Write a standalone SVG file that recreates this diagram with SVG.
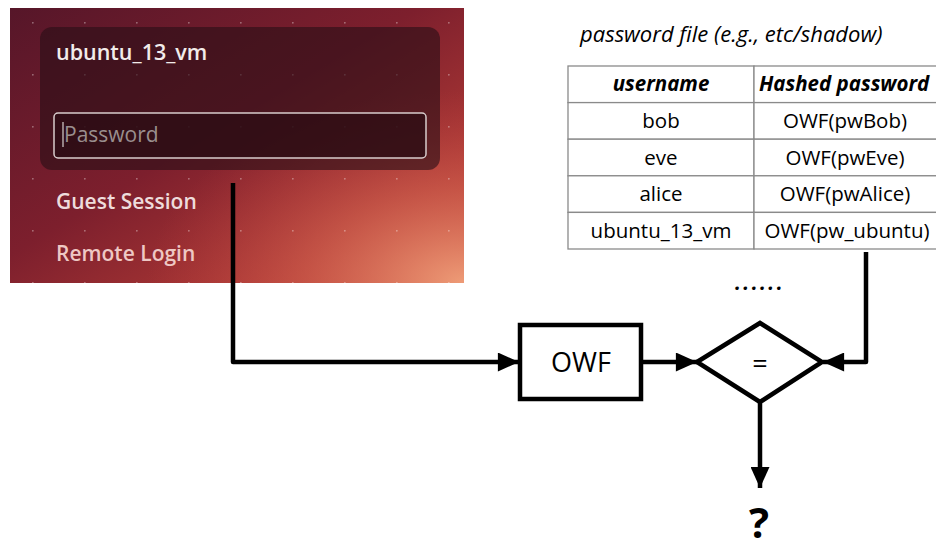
<svg xmlns="http://www.w3.org/2000/svg" width="936" height="549" viewBox="0 0 936 549">
<defs>
<style>
.ui{font-family:"Open Sans","Noto Sans","Liberation Sans",sans-serif}
.tb{font-family:"Open Sans","Liberation Sans",sans-serif;font-size:20.5px;fill:#000;text-anchor:middle}
.hd{font-weight:bold;font-style:italic}
.cell{fill:#fff;stroke:#8a8a8a;stroke-width:1.3}
.wire{fill:none;stroke:#000;stroke-width:4.5;stroke-linejoin:round}
</style>
<linearGradient id="bg" x1="0" y1="0" x2="1" y2="1">
<stop offset="0" stop-color="#561629"/>
<stop offset="0.45" stop-color="#7d1f2d"/>
<stop offset="0.8" stop-color="#b03a35"/>
<stop offset="1" stop-color="#c84a3c"/>
</linearGradient>
<radialGradient id="glow" cx="1" cy="1" r="0.7">
<stop offset="0" stop-color="#f0a07a" stop-opacity="0.95"/>
<stop offset="0.5" stop-color="#d86a55" stop-opacity="0.5"/>
<stop offset="1" stop-color="#c04040" stop-opacity="0"/>
</radialGradient>
<pattern id="dots" x="32" y="22" width="52" height="52" patternUnits="userSpaceOnUse">
<circle cx="0.8" cy="0.8" r="0.9" fill="#ffffff" fill-opacity="0.35"/>
</pattern>
<marker id="arr" viewBox="0 0 20 18" refX="20" refY="9" markerWidth="26" markerHeight="19" markerUnits="userSpaceOnUse" orient="auto">
<path d="M0,0 L20,9 L0,18 z" fill="#000"/>
</marker>
</defs>
<rect width="936" height="549" fill="#fff"/>

<g id="login-screen">
<rect x="10" y="8" width="454" height="275" fill="url(#bg)"/>
<rect x="10" y="8" width="454" height="275" fill="url(#glow)"/>
<rect x="10" y="8" width="454" height="275" fill="url(#dots)"/>
<rect x="40" y="27" width="400" height="143" rx="12" fill="#2a0e16" fill-opacity="0.62"/>
<text x="56" y="60" class="ui" font-size="21.5" font-weight="600" fill="#f2ecea">ubuntu_13_vm</text>
<rect x="54" y="113" width="372" height="45" rx="4" fill="#2a0c12" fill-opacity="0.7" stroke="#d8cccc" stroke-width="1.5"/>
<line x1="63" y1="122" x2="63" y2="147" stroke="#d8d0d0" stroke-width="1.2"/>
<text x="64" y="142" class="ui" font-size="21" fill="#9a8e8e">Password</text>
<text x="56" y="209" class="ui" font-size="21" font-weight="600" fill="#eedcdc">Guest Session</text>
<text x="56" y="261" class="ui" font-size="21" font-weight="600" fill="#eec8c4">Remote Login</text>
</g>

<g id="password-file">
<text x="580" y="42" class="ui" font-size="22" font-style="italic" fill="#000">password file (e.g., etc/shadow)</text>
<rect class="cell" x="568" y="66" width="186" height="36.6"/>
<rect class="cell" x="754" y="66" width="190" height="36.6"/>
<rect class="cell" x="568" y="102.6" width="186" height="36.6"/>
<rect class="cell" x="754" y="102.6" width="190" height="36.6"/>
<rect class="cell" x="568" y="139.2" width="186" height="36.6"/>
<rect class="cell" x="754" y="139.2" width="190" height="36.6"/>
<rect class="cell" x="568" y="175.8" width="186" height="36.6"/>
<rect class="cell" x="754" y="175.8" width="190" height="36.6"/>
<rect class="cell" x="568" y="212.4" width="186" height="36.6"/>
<rect class="cell" x="754" y="212.4" width="190" height="36.6"/>
<text class="tb hd" x="661" y="91">username</text>
<text class="tb hd" x="759" y="91" style="text-anchor:start">Hashed password</text>
<text class="tb" x="661" y="128">bob</text>
<text class="tb" x="845" y="128">OWF(pwBob)</text>
<text class="tb" x="661" y="165">eve</text>
<text class="tb" x="845" y="165">OWF(pwEve)</text>
<text class="tb" x="661" y="201">alice</text>
<text class="tb" x="845" y="201">OWF(pwAlice)</text>
<text class="tb" x="661" y="238">ubuntu_13_vm</text>
<text class="tb" x="847" y="238">OWF(pw_ubuntu)</text>
<text class="tb hd" x="760" y="290" letter-spacing="2.5">......</text>
</g>

<g id="connectors">
<path class="wire" d="M233,183 V362 H519" marker-end="url(#arr)"/>
<path class="wire" d="M642,362 H697" marker-end="url(#arr)"/>
<path class="wire" d="M866,252 V362 H823" marker-end="url(#arr)"/>
<path class="wire" d="M760,402 V488" marker-end="url(#arr)"/>
</g>

<g id="owf">
<rect x="520" y="325" width="121" height="74" fill="#fff" stroke="#000" stroke-width="4.5"/>
<text x="581" y="372" class="ui" font-size="27" text-anchor="middle" fill="#000">OWF</text>
</g>

<g id="compare">
<path d="M697,362 L760,323 L822,362 L760,402 z" fill="#fff" stroke="#000" stroke-width="4.5" stroke-linejoin="miter"/>
<text x="760" y="373" class="ui" font-size="27" text-anchor="middle" fill="#000">=</text>
</g>

<g id="result">
<text x="759" y="538" class="ui" font-size="42" font-weight="bold" text-anchor="middle" fill="#000">?</text>
</g>
</svg>
